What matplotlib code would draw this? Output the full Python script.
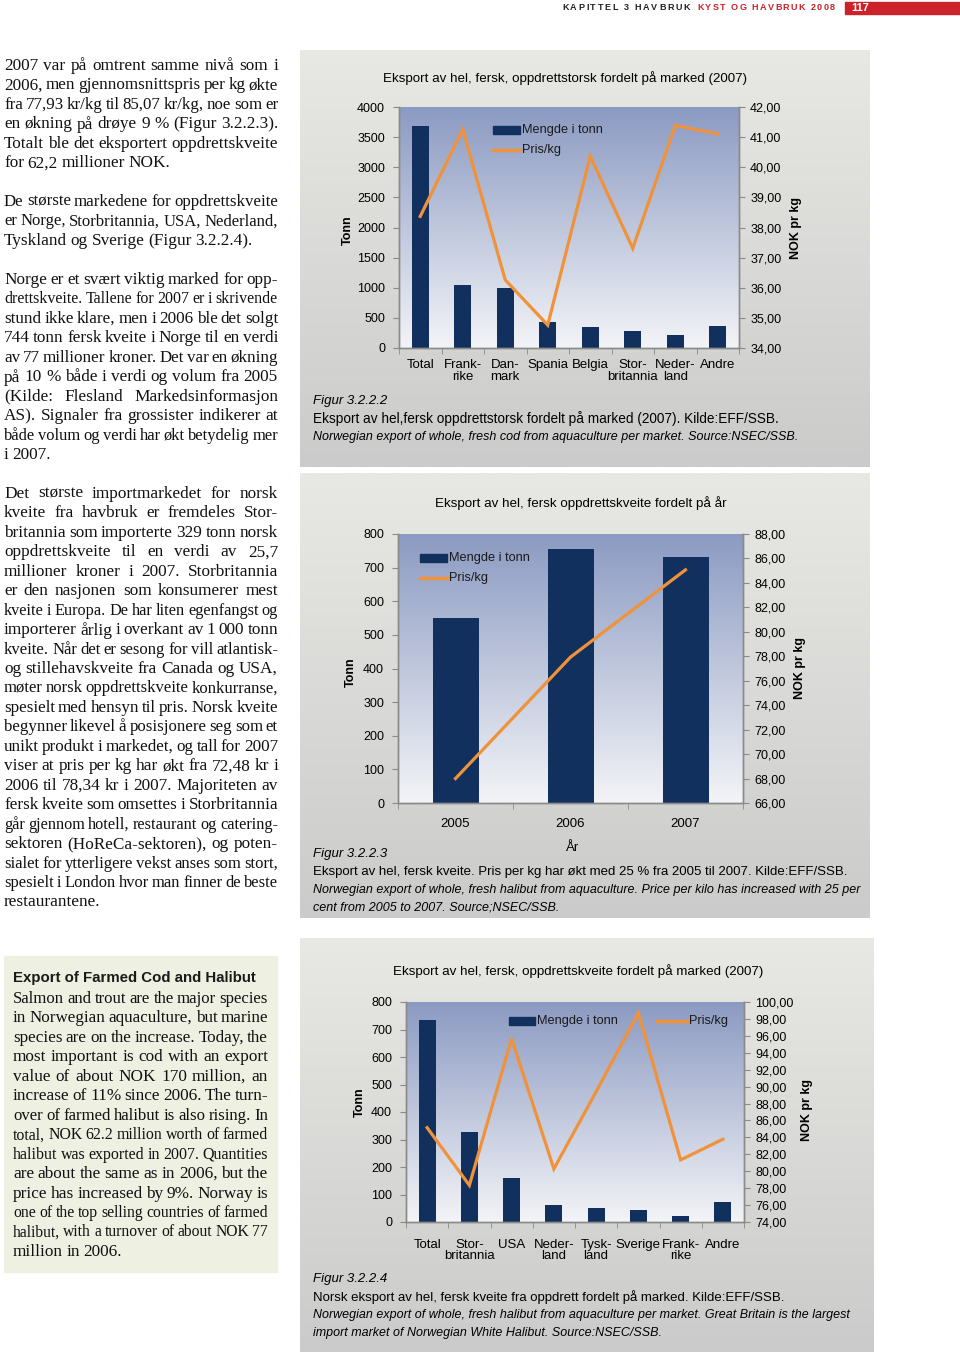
import numpy as np
import matplotlib
matplotlib.use("Agg")
import matplotlib.pyplot as plt
from matplotlib.colors import LinearSegmentedColormap
from matplotlib.patches import Rectangle
from matplotlib.lines import Line2D

# ---- data -------------------------------------------------------------
cod_markets = ["Total", "Frank-\nrike", "Dan-\nmark", "Spania", "Belgia",
               "Stor-\nbritannia", "Neder-\nland", "Andre"]
cod_tonn = [3684, 1048, 1004, 433, 350, 277, 222, 372]
cod_price = [38.37, 41.26, 36.26, 34.76, 40.37, 37.31, 41.39, 41.11]

halibut_years = ["2005", "2006", "2007"]
halibut_tonn = [550, 755, 732]
halibut_price = [68.0, 77.93, 85.07]

halibut_markets = ["Total", "Stor-\nbritannia", "USA", "Neder-\nland", "Tysk-\nland",
                   "Sverige", "Frank-\nrike", "Andre"]
halibut_mkt_tonn = [733, 329, 160, 63, 51, 45, 23, 71]
halibut_mkt_price = [85.15, 78.34, 95.68, 80.28, 89.4, 98.7, 81.34, 83.78]

# ---- page -------------------------------------------------------------
W, H = 960, 1354
fig = plt.figure(figsize=(W / 100, H / 100), dpi=100)
fig.patch.set_facecolor("white")

SANS = "Liberation Sans"
SERIF = "Liberation Serif"
NAVY = "#12305e"
ORANGE = "#f0923a"
GREY = "#8a8a8a"


def P(x, y):
    return (x / W, 1 - y / H)


def rect(x0, y0, x1, y1):
    return [x0 / W, 1 - y1 / H, (x1 - x0) / W, (y1 - y0) / H]


def txt(x, y, s, size=9, **kw):
    kw.setdefault("family", SANS)
    kw.setdefault("va", "center")
    return fig.text(*P(x, y), s, fontsize=size, **kw)


def gradient(x0, y0, x1, y1, top, bottom, z):
    a = fig.add_axes(rect(x0, y0, x1, y1), zorder=z)
    cmap = LinearSegmentedColormap.from_list("g", [top, bottom])
    a.imshow(np.linspace(0, 1, 256)[:, None], aspect="auto", cmap=cmap,
             extent=[0, 1, 0, 1])
    a.axis("off")
    return a


renderer = fig.canvas.get_renderer()
BODY = 12.4
MIN_GAP = 3.0


def justify(lines, x0, y0, width, step, size=BODY):
    for i, line in enumerate(lines):
        y = y0 + i * step
        words = line.split(" ")
        last = i == len(lines) - 1 or len(words) == 1
        items = [txt(0, y, w, size, family=SERIF, va="center_baseline", color="#111111")
                 for w in words]
        widths = [t.get_window_extent(renderer).width for t in items]
        need = sum(widths) + MIN_GAP * (len(words) - 1)
        if need > width and not last:
            # squeeze an over-long line a little, as the typesetter did
            k = (width - MIN_GAP * (len(words) - 1)) / sum(widths)
            for t in items:
                t.set_fontsize(size * k)
            widths = [t.get_window_extent(renderer).width for t in items]
        if last:
            gap = MIN_GAP + 0.6
        else:
            gap = (width - sum(widths)) / (len(words) - 1)
        x = x0
        for t, w in zip(items, widths):
            t.set_position(P(x, y))
            x += w + gap


def spaced(x0, x1, y, s, size, **kw):
    # letter-spaced text spread evenly over x0..x1
    space_w = 0.28 * size * 100 / 72
    items, widths = [], []
    for ch in s:
        if ch == " ":
            items.append(None)
            widths.append(space_w)
        else:
            t = txt(0, y, ch, size, **kw)
            items.append(t)
            widths.append(t.get_window_extent(renderer).width)
    gap = (x1 - x0 - sum(widths)) / (len(s) - 1)
    x = x0
    for t, w in zip(items, widths):
        if t is not None:
            t.set_position(P(x, y))
        x += w + gap


# header
spaced(562, 690, 8, "KAPITTEL 3 HAVBRUK", 6.5, weight="bold", color="#222222")
spaced(697, 835, 8, "KYST OG HAVBRUK 2008", 6.5, weight="bold", color="#cc2229")
fig.patches.append(Rectangle(P(845, 14), 115 / W, 12 / H, transform=fig.transFigure,
                             color="#cc2229"))
txt(851, 8, "117", 8, weight="bold", color="white")

# grey chart panels and English box
gradient(300, 50, 870, 467, "#e8e8e4", "#cbcbcb", 0)
gradient(300, 473, 870, 918, "#e8e8e4", "#cbcbcb", 0)
gradient(300, 938, 874, 1352, "#e8e8e4", "#cbcbcb", 0)
fig.patches.append(Rectangle(P(4, 1272), 273 / W, 316 / H, transform=fig.transFigure,
                             color="#eef0e2", zorder=0))


def chart(box, cats, qty, price, ymax, ystep, plo, phi, pstep, xpad):
    x0, y0, x1, y1 = box
    gradient(x0, y0, x1, y1, "#8b9ac2", "#f3f4f7", 1)
    ax = fig.add_axes(rect(x0, y0, x1, y1), zorder=2)
    ax.patch.set_visible(False)
    x = np.arange(len(cats))
    ax.bar(x, qty, width=0.4, color=NAVY, zorder=2)
    ax.set_xlim(-0.5, len(cats) - 0.5)
    ax.set_ylim(0, ymax)
    ax.set_yticks(np.arange(0, ymax + 1, ystep))
    ax.set_xticks(x, cats)
    ax.set_xticks(np.arange(len(cats) + 1) - 0.5, minor=True)
    ax.tick_params(axis="x", which="major", length=0, pad=xpad, labelsize=9.5,
                   labelfontfamily=SANS)
    ax.tick_params(axis="x", which="minor", length=4, color=GREY)
    for lab in ax.get_xticklabels():
        lab.set_linespacing(0.95)
    ax.tick_params(axis="y", length=4, pad=6, labelsize=9, color=GREY,
                   labelfontfamily=SANS)
    ax2 = ax.twinx()
    ax2.plot(x, price, color=ORANGE, lw=2.3, solid_joinstyle="miter", zorder=3)
    ax2.set_ylim(plo, phi)
    ticks = np.arange(plo, phi + 0.01, pstep)
    ax2.set_yticks(ticks, [f"{t:.2f}".replace(".", ",") for t in ticks])
    ax2.tick_params(axis="y", length=4, pad=4, labelsize=9, color=GREY,
                    labelfontfamily=SANS)
    for a in (ax, ax2):
        a.spines["top"].set_visible(False)
        for s in ("left", "right", "bottom"):
            a.spines[s].set_color(GREY)
            a.spines[s].set_linewidth(1.0)
    return ax


def legend_item(xa, xb, y, kind, label):
    if kind == "bar":
        fig.add_artist(Rectangle(P(xa, y + 4), (xb - xa) / W, 8 / H,
                                 transform=fig.transFigure, color=NAVY, zorder=5))
    else:
        fig.add_artist(Line2D([xa / W, xb / W], [1 - y / H] * 2,
                              transform=fig.transFigure, color=ORANGE, lw=2.5, zorder=5))
    txt(xb + 2, y, label, 9.2, zorder=6, color="#1a1a1a")


CAP = 9.5
ITAL = 9.0

# figure 3.2.2.2
chart((399, 107, 739, 348), cod_markets, cod_tonn, cod_price, 4000, 500, 34, 42, 1, 8)
txt(565, 78, "Eksport av hel, fersk, oppdrettstorsk fordelt på marked (2007)", 9.6,
    ha="center", zorder=6)
legend_item(493, 520, 130, "bar", "Mengde i tonn")
legend_item(493, 520, 150, "line", "Pris/kg")
txt(348, 230, "Tonn", 9, rotation=90, ha="center", weight="bold", zorder=6)
txt(796, 228, "NOK pr kg", 9, rotation=90, ha="center", weight="bold", zorder=6)
txt(313, 401, "Figur 3.2.2.2", CAP, style="italic", zorder=6)
txt(313, 419, "Eksport av hel,fersk oppdrettstorsk fordelt på marked (2007). Kilde:EFF/SSB.",
    CAP + 0.3, zorder=6)
txt(313, 437, "Norwegian export of whole, fresh cod from aquaculture per market. Source:NSEC/SSB.",
    ITAL, style="italic", zorder=6)

# figure 3.2.2.3
chart((398, 534, 743, 803), halibut_years, halibut_tonn, halibut_price, 800, 100,
      66, 88, 2, 11)
txt(581, 503, "Eksport av hel, fersk oppdrettskveite fordelt på år", 9.6, ha="center",
    zorder=6)
legend_item(420, 447, 558, "bar", "Mengde i tonn")
legend_item(420, 447, 578, "line", "Pris/kg")
txt(351, 672, "Tonn", 9, rotation=90, ha="center", weight="bold", zorder=6)
txt(800, 668, "NOK pr kg", 9, rotation=90, ha="center", weight="bold", zorder=6)
txt(573, 848, "År", 9.5, ha="center", zorder=6)
txt(313, 854, "Figur 3.2.2.3", CAP, style="italic", zorder=6)
txt(313, 872, "Eksport av hel, fersk kveite. Pris per kg har økt med 25 % fra 2005 til 2007. "
    "Kilde:EFF/SSB.", CAP, zorder=6)
txt(313, 890, "Norwegian export of whole, fresh halibut from aquaculture. Price per kilo has "
    "increased with 25 per", ITAL, style="italic", zorder=6)
txt(313, 908, "cent from 2005 to 2007. Source;NSEC/SSB.", ITAL, style="italic", zorder=6)

# figure 3.2.2.4
chart((406, 1002, 744, 1222), halibut_markets, halibut_mkt_tonn, halibut_mkt_price,
      800, 100, 74, 100, 2, 12)
txt(578, 971, "Eksport av hel, fersk, oppdrettskveite fordelt på marked (2007)", 9.6,
    ha="center", zorder=6)
legend_item(509, 535, 1021, "bar", "Mengde i tonn")
legend_item(657, 687, 1021, "line", "Pris/kg")
txt(360, 1102, "Tonn", 9, rotation=90, ha="center", weight="bold", zorder=6)
txt(807, 1110, "NOK pr kg", 9, rotation=90, ha="center", weight="bold", zorder=6)
txt(313, 1279, "Figur 3.2.2.4", CAP, style="italic", zorder=6)
txt(313, 1297, "Norsk eksport av hel, fersk kveite fra oppdrett fordelt på marked. "
    "Kilde:EFF/SSB.", CAP, zorder=6)
txt(313, 1315, "Norwegian export of whole, fresh halibut from aquaculture per market. "
    "Great Britain is the largest", ITAL, style="italic", zorder=6)
txt(313, 1333, "import market of Norwegian White Halibut. Source:NSEC/SSB.", ITAL,
    style="italic", zorder=6)

# ---- body text --------------------------------------------------------
STEP = 19.45
justify(["2007 var på omtrent samme nivå som i",
         "2006, men gjennomsnittspris per kg økte",
         "fra 77,93 kr/kg til 85,07 kr/kg, noe som er",
         "en økning på drøye 9 % (Figur 3.2.2.3).",
         "Totalt ble det eksportert oppdrettskveite",
         "for 62,2 millioner NOK."], 4, 64, 274, STEP)
justify(["De største markedene for oppdrettskveite",
         "er Norge, Storbritannia, USA, Nederland,",
         "Tyskland og Sverige (Figur 3.2.2.4)."], 4, 200, 274, STEP)
justify(["Norge er et svært viktig marked for opp-",
         "drettskveite. Tallene for 2007 er i skrivende",
         "stund ikke klare, men i 2006 ble det solgt",
         "744 tonn fersk kveite i Norge til en verdi",
         "av 77 millioner kroner. Det var en økning",
         "på 10 % både i verdi og volum fra 2005",
         "(Kilde: Flesland Markedsinformasjon",
         "AS). Signaler fra grossister indikerer at",
         "både volum og verdi har økt betydelig mer",
         "i 2007."], 4, 278, 274, STEP)
justify(["Det største importmarkedet for norsk",
         "kveite fra havbruk er fremdeles Stor-",
         "britannia som importerte 329 tonn norsk",
         "oppdrettskveite til en verdi av 25,7",
         "millioner kroner i 2007. Storbritannia",
         "er den nasjonen som konsumerer mest",
         "kveite i Europa. De har liten egenfangst og",
         "importerer årlig i overkant av 1 000 tonn",
         "kveite. Når det er sesong for vill atlantisk-",
         "og stillehavskveite fra Canada og USA,",
         "møter norsk oppdrettskveite konkurranse,",
         "spesielt med hensyn til pris. Norsk kveite",
         "begynner likevel å posisjonere seg som et",
         "unikt produkt i markedet, og tall for 2007",
         "viser at pris per kg har økt fra 72,48 kr i",
         "2006 til 78,34 kr i 2007. Majoriteten av",
         "fersk kveite som omsettes i Storbritannia",
         "går gjennom hotell, restaurant og catering-",
         "sektoren (HoReCa-sektoren), og poten-",
         "sialet for ytterligere vekst anses som stort,",
         "spesielt i London hvor man finner de beste",
         "restaurantene."], 4, 492, 274, STEP)

txt(13, 978, "Export of Farmed Cod and Halibut", 10.8, weight="bold", color="#1a1a1a")
justify(["Salmon and trout are the major species",
         "in Norwegian aquaculture, but marine",
         "species are on the increase. Today, the",
         "most important is cod with an export",
         "value of about NOK 170 million, an",
         "increase of 11% since 2006. The turn-",
         "over of farmed halibut is also rising. In",
         "total, NOK 62.2 million worth of farmed",
         "halibut was exported in 2007. Quantities",
         "are about the same as in 2006, but the",
         "price has increased by 9%. Norway is",
         "one of the top selling countries of farmed",
         "halibut, with a turnover of about NOK 77",
         "million in 2006."], 13, 997, 255, STEP)

fig.savefig("out.png", dpi=100)
